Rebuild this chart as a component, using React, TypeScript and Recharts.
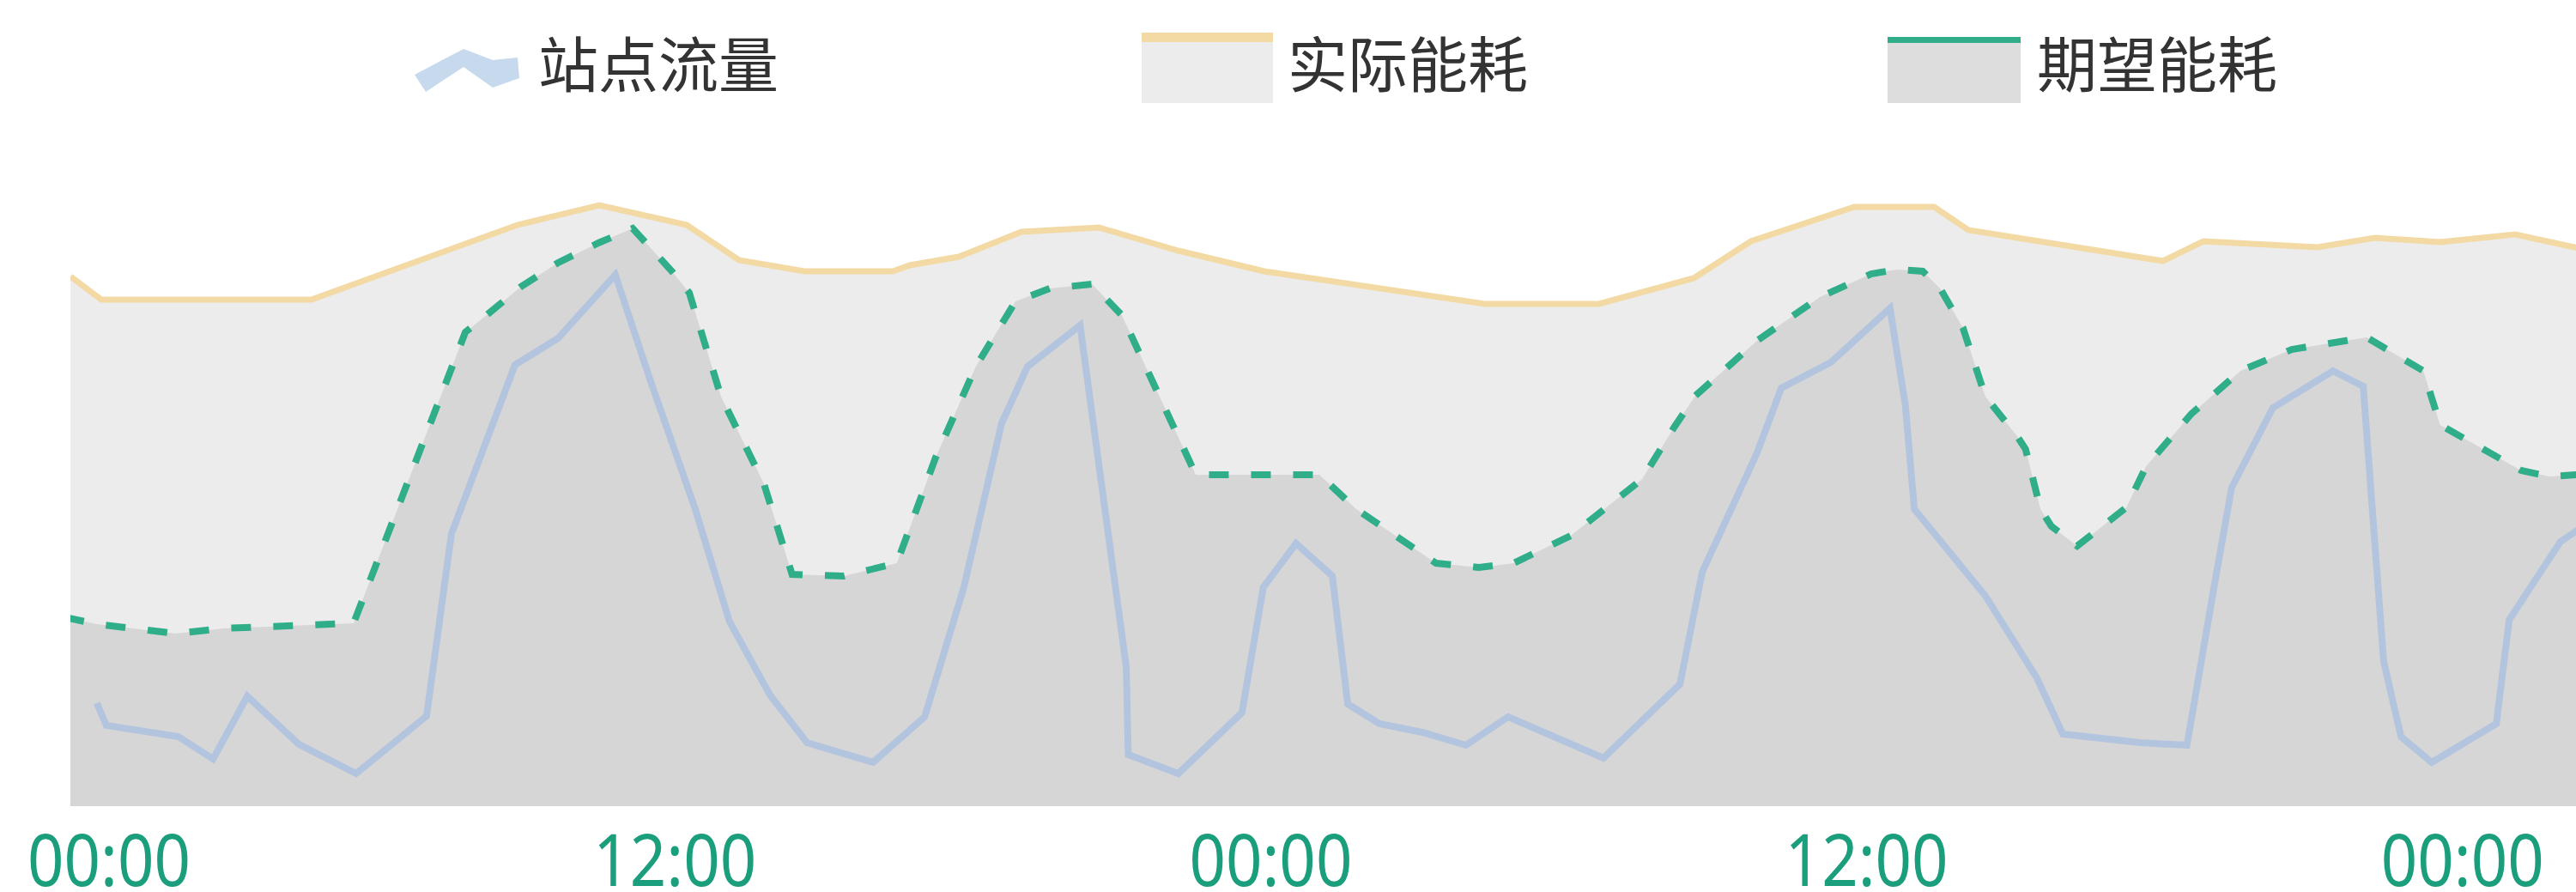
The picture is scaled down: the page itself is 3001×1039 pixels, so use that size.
import React from 'react';
import { ComposedChart, Area, Line, XAxis, YAxis, Legend } from 'recharts';

// x: hours since first 00:00, y: relative units
const tickHours = [0, 12, 24, 36, 48];
const tickLabels = ['00:00', '12:00', '00:00', '12:00', '00:00'];
const legendNames = ['站点流量', '实际能耗', '期望能耗'];

const flowHours = [0.36, 0.55, 2.0, 2.7, 3.39, 4.43, 5.58, 7.0, 7.5, 8.78, 9.65, 10.8, 11.5, 12.41, 13.1, 13.92, 14.66, 15.99, 17.03, 17.82, 18.58, 19.1, 20.16, 21.09, 21.13, 22.14, 23.42, 23.85, 24.51, 25.24, 25.55, 26.19, 27.05, 27.93, 28.78, 30.7, 32.24, 32.69, 33.79, 34.28, 35.28, 36.47, 36.78, 36.96, 38.39, 39.43, 39.95, 41.5, 42.45, 43.01, 43.35, 44.18, 45.39, 46.0, 46.41, 46.76, 47.38, 48.68, 48.94, 49.97, 50.79];
const flowValues = [120, 94, 81, 55, 128, 72, 38, 105, 317, 514, 545, 619, 497, 346, 215, 129, 74, 51, 104, 255, 446, 512, 560, 162, 60, 38, 109, 255, 306, 268, 119, 96, 86, 71, 104, 56, 142, 273, 411, 487, 517, 580, 467, 346, 245, 149, 84, 74, 71, 260, 371, 464, 507, 489, 169, 81, 51, 96, 217, 308, 340];

const actualHours = [-0.17, 0.45, 4.68, 8.83, 10.48, 12.24, 13.29, 14.61, 16.39, 16.73, 17.72, 18.98, 20.54, 22.14, 23.87, 28.31, 30.61, 32.52, 33.67, 35.75, 37.36, 38.05, 41.97, 42.78, 45.08, 46.24, 47.55, 49.06, 51.13];
const actualValues = [617, 590, 590, 677, 700, 677, 636, 623, 623, 630, 640, 669, 674, 647, 623, 585, 585, 615, 658, 698, 698, 671, 635, 658, 651, 662, 657, 666, 640];

const expectedHours = [-0.29, 0.36, 1.95, 2.9, 5.53, 7.78, 8.21, 8.9, 9.65, 10.46, 11.15, 11.94, 12.29, 12.93, 13.79, 14.36, 15.4, 16.47, 17.25, 18.06, 18.86, 19.55, 20.4, 21.0, 22.49, 24.98, 25.72, 27.33, 28.19, 28.89, 30.04, 31.48, 32.12, 32.55, 33.79, 35.06, 36.09, 36.61, 37.13, 37.48, 37.94, 38.39, 39.03, 39.2, 39.5, 39.72, 40.24, 41.23, 41.63, 42.54, 43.53, 44.56, 46.07, 47.21, 47.55, 49.18, 49.75, 50.28, 50.96];
const expectedValues = [220, 212, 201, 207, 213, 552, 572, 605, 633, 656, 673, 623, 598, 477, 376, 270, 268, 283, 406, 512, 588, 603, 608, 572, 386, 386, 346, 283, 278, 283, 315, 381, 441, 478, 542, 593, 620, 625, 623, 603, 557, 477, 431, 416, 346, 326, 303, 348, 396, 457, 507, 532, 546, 507, 444, 391, 384, 386, 386];

const toSeries = (hours: number[], values: number[]) => hours.map((t, i) => ({ t, v: values[i] }));
const flowData = toSeries(flowHours, flowValues);
const actualData = toSeries(actualHours, actualValues);
const expectedData = toSeries(expectedHours, expectedValues);

const C = {
  flow: '#b3c5de',
  flowIcon: '#c6d9ed',
  actualLine: '#f3d9a4',
  actualFill: '#ececec',
  expectedLine: '#2fae89',
  expectedFill: '#d7d6d7',
  tick: '#1a9e7c',
  text: '#333333',
};

const W = 3001;
const H = 1039;

const Tick = (props: any) => {
  const { x, y, payload, index } = props;
  const label = tickLabels[tickHours.indexOf(payload.value)] ?? '';
  const half = 95;
  const cx = Math.max(x, 32 + half);
  return (
    <text
      x={cx}
      y={1032}
      textAnchor="middle"
      fontSize={84}
      fontFamily="'Noto Sans', sans-serif"
      fill={C.tick}
      textLength={190}
      lengthAdjust="spacingAndGlyphs"
    >
      {label}
    </text>
  );
};

const LegendContent = () => (
  <div style={{ position: 'relative', height: 0, width: W }}>
    <svg width={W} height={140} style={{ position: 'absolute', left: 0, top: 0, overflow: 'visible' }}>
      <polygon
        points="483,87 540,57 574,70 603,67 605,91 574,102 540,78 496,107"
        fill={C.flowIcon}
      />
      <text x={627} y={102} fontSize={70} fontFamily="'Noto Sans CJK SC', sans-serif" fill={C.text}>{legendNames[0]}</text>

      <rect x={1330} y={49} width={153} height={71} fill={C.actualFill} />
      <rect x={1330} y={38} width={153} height={11} fill={C.actualLine} />
      <text x={1500} y={102} fontSize={70} fontFamily="'Noto Sans CJK SC', sans-serif" fill={C.text}>{legendNames[1]}</text>

      <rect x={2199} y={50} width={155} height={70} fill="#dddddd" />
      <rect x={2199} y={43} width={155} height={7} fill={C.expectedLine} />
      <text x={2373} y={102} fontSize={70} fontFamily="'Noto Sans CJK SC', sans-serif" fill={C.text}>{legendNames[2]}</text>
    </svg>
  </div>
);

export default function App() {
  return (
    <div style={{ position: 'absolute', left: 0, top: 0, width: W, height: H, background: '#ffffff' }}>
      <ComposedChart width={W} height={H} margin={{ top: 139, right: 0, left: 82, bottom: 0 }}>
        <XAxis
          type="number"
          dataKey="t"
          domain={[-0.173, 50.285]}
          allowDataOverflow
          ticks={tickHours}
          interval={0}
          height={100}
          axisLine={false}
          tickLine={false}
          tick={<Tick />}
        />
        <YAxis hide type="number" domain={[0, 800]} allowDataOverflow />
        <Legend verticalAlign="top" wrapperStyle={{ top: 0, left: 0, width: W, height: 0 }} content={<LegendContent />} />
        <Area
          data={actualData}
          dataKey="v"
          name={legendNames[1]}
          type="linear"
          stroke={C.actualLine}
          strokeWidth={7}
          fill={C.actualFill}
          fillOpacity={1}
          isAnimationActive={false}
          dot={false}
          activeDot={false}
        />
        <Area
          data={expectedData}
          dataKey="v"
          name={legendNames[2]}
          type="linear"
          stroke={C.expectedLine}
          strokeWidth={8}
          strokeDasharray="23 26"
          fill={C.expectedFill}
          fillOpacity={1}
          isAnimationActive={false}
          dot={false}
          activeDot={false}
        />
        <Line
          data={flowData}
          dataKey="v"
          name={legendNames[0]}
          type="linear"
          stroke={C.flow}
          strokeWidth={8}
          strokeLinejoin="miter"
          dot={false}
          activeDot={false}
          isAnimationActive={false}
        />
      </ComposedChart>
    </div>
  );
}
